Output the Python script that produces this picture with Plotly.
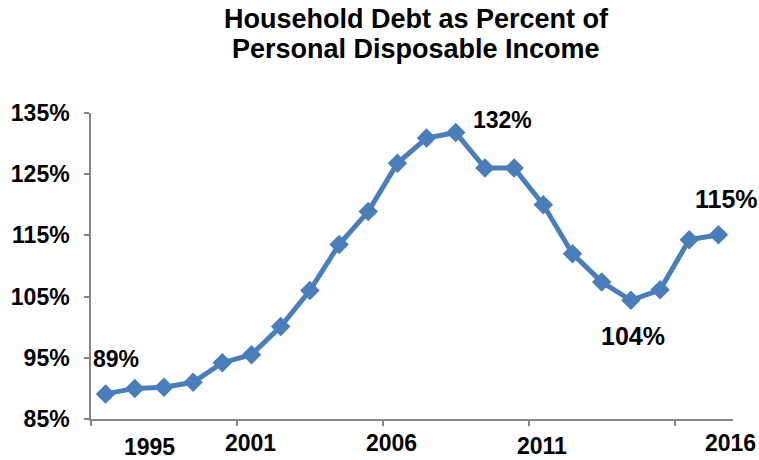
import plotly.graph_objects as go

# Household debt as a share of personal disposable income, 1995-2016
years = list(range(1995, 2017))
debt_pct = [89.1, 90.0, 90.2, 91.0, 94.2, 95.5, 100.1, 106.0, 113.5, 118.9, 126.8,
            130.9, 131.8, 126.0, 126.0, 120.0, 112.0, 107.4, 104.4, 106.1, 114.3, 115.1]

y_ticks = [85, 95, 105, 115, 125, 135]
year_labels = ["1995", "2001", "2006", "2011", "2016"]
year_label_x = [1996.5, 1999.95, 2004.8, 2009.95, 2016.4]
year_label_y = [-0.093, -0.080, -0.080, -0.087, -0.078]

title_lines = ["Household Debt as Percent of", "Personal Disposable Income"]
title_line_y = [1.307, 1.209]

# Years whose values are called out on the line, with label offsets in pixels
callout_years = [1995, 2007, 2013, 2016]
callout_shift = [(10, 35), (47, 13), (2, -36), (8, 36)]
callout_size = [23, 23, 25, 25]

BLUE = "#4A7EBB"
AXIS = "#868686"
FONT = "Liberation Sans, Arial, sans-serif"

fig = go.Figure()
fig.add_trace(go.Scatter(
    x=years, y=debt_pct, mode="lines+markers",
    line=dict(color=BLUE, width=5),
    marker=dict(symbol="diamond", size=15, color=BLUE),
    cliponaxis=False, showlegend=False,
))

annotations = []
for line, ly in zip(title_lines, title_line_y):
    annotations.append(dict(
        x=0.5065, y=ly, xref="paper", yref="paper", text=f"<b>{line}</b>",
        showarrow=False, xanchor="center", yanchor="middle",
        font=dict(family=FONT, size=27, color="black"),
    ))
for yr, (dx, dy), fs in zip(callout_years, callout_shift, callout_size):
    v = debt_pct[years.index(yr)]
    annotations.append(dict(
        x=yr, y=v, xref="x", yref="y", text=f"<b>{v:.0f}%</b>",
        showarrow=False, xshift=dx, yshift=dy,
        font=dict(family=FONT, size=fs, color="black"),
    ))
for lab, lx, ly in zip(year_labels, year_label_x, year_label_y):
    annotations.append(dict(
        x=lx, y=ly, xref="x", yref="paper", text=f"<b>{lab}</b>",
        showarrow=False, xanchor="center", yanchor="middle",
        font=dict(family=FONT, size=23, color="black"),
    ))

fig.update_layout(
    width=759, height=460,
    margin=dict(l=91, r=26, t=113, b=41),
    paper_bgcolor="white", plot_bgcolor="white",
    annotations=annotations,
    xaxis=dict(
        range=[1994.5, 2016.5],
        tickvals=[1994.5, 1999.5, 2004.5, 2009.5, 2014.5],
        ticktext=["", "", "", "", ""],
        ticks="outside", ticklen=5, tickwidth=1.5, tickcolor=AXIS,
        showline=True, linecolor=AXIS, linewidth=1.5,
        showgrid=False, zeroline=False,
    ),
    yaxis=dict(
        range=[85, 135],
        tickvals=y_ticks, ticktext=[f"<b>{t}%</b>" for t in y_ticks],
        ticks="outside", ticklen=5, tickwidth=1.5, tickcolor=AXIS,
        ticklabelstandoff=10,
        showline=True, linecolor=AXIS, linewidth=1.5,
        showgrid=False, zeroline=False,
        tickfont=dict(family=FONT, size=23, color="black"),
    ),
)

fig.write_html("out.html")
